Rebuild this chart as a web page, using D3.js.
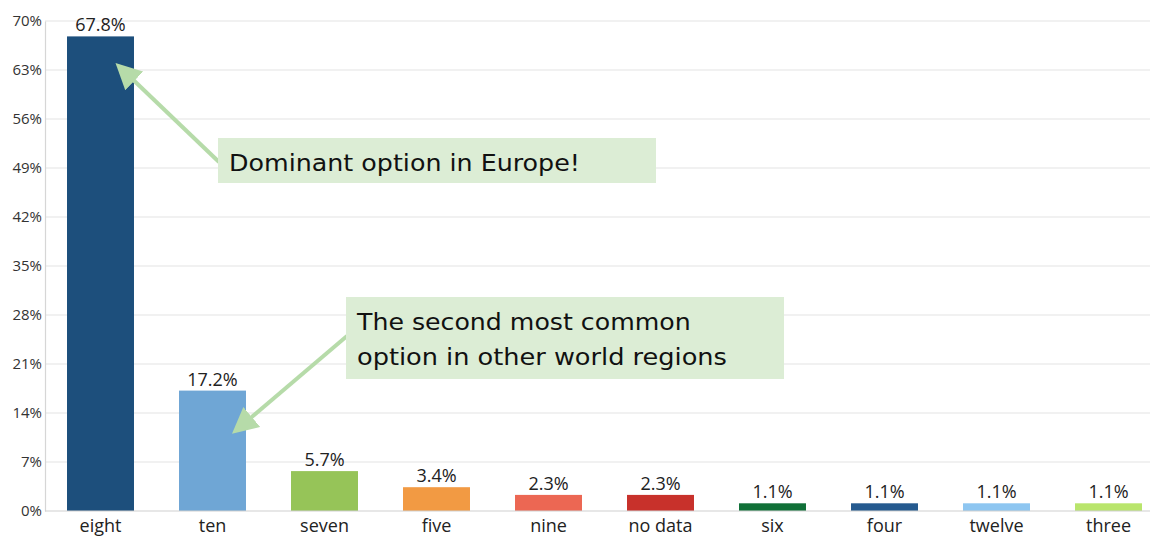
<!DOCTYPE html>
<html>
<head>
<meta charset="utf-8">
<script src="https://cdn.jsdelivr.net/npm/d3@7/dist/d3.min.js"></script>
<style>
  html, body { margin: 0; padding: 0; background: #fff; }
  svg { display: block; }
</style>
</head>
<body>
<svg id="chart" width="1150" height="536"></svg>
<script>
// Share of responses per option (percent)
const categories = ["eight", "ten", "seven", "five", "nine", "no data", "six", "four", "twelve", "three"];
const values = [67.8, 17.2, 5.7, 3.4, 2.3, 2.3, 1.1, 1.1, 1.1, 1.1];
const barColors = ["#1d4f7c", "#6fa6d5", "#96c458", "#f29a43", "#ec6753", "#c8312b", "#107038", "#255a8f", "#8ec6f1", "#b9e56c"];
const yTicks = [0, 7, 14, 21, 28, 35, 42, 49, 56, 63, 70];
const notes = [
  { lines: ["Dominant option in Europe!"], target: "eight", value: 63.5 },
  { lines: ["The second most common", "option in other world regions"], target: "ten", value: 11.5 }
];

const svg = d3.select("#chart");
const W = 1150, H = 536;
const baseFont = "'Open Sans', 'Noto Sans', sans-serif";
const noteFont = "'DejaVu Sans', 'Noto Sans', sans-serif";

const x = d3.scaleBand()
  .domain(categories)
  .range([44.5, 1164.5])
  .paddingInner(0.402)
  .paddingOuter(0.201);

const y = d3.scaleLinear().domain([0, 70]).range([511, 21]);

// horizontal grid
svg.append("g")
  .selectAll("line")
  .data(yTicks.filter(t => t > 0))
  .join("line")
  .attr("x1", 45).attr("x2", W)
  .attr("y1", d => y(d)).attr("y2", d => y(d))
  .attr("stroke", "#e4e4e4").attr("stroke-width", 1.2);

// y axis
const yAxis = svg.append("g")
  .attr("transform", "translate(45,0)")
  .call(d3.axisLeft(y).tickValues(yTicks).tickSize(0).tickPadding(3).tickFormat(d => d + "%"));
yAxis.select(".domain").attr("stroke", "#d6d6d6").attr("stroke-width", 1.2);
yAxis.selectAll("text")
  .attr("font-family", baseFont).attr("font-size", 15).attr("fill", "#333");

// bars
svg.append("g")
  .selectAll("rect")
  .data(categories)
  .join("rect")
  .attr("x", d => x(d))
  .attr("width", x.bandwidth())
  .attr("y", (d, i) => y(values[i]))
  .attr("height", (d, i) => y(0) - y(values[i]))
  .attr("fill", (d, i) => barColors[i]);

// x axis
const xAxis = svg.append("g")
  .attr("transform", `translate(0,${y(0)})`)
  .call(d3.axisBottom(x).tickSize(0).tickPadding(8));
xAxis.select(".domain").attr("stroke", "#d0d0d0").attr("stroke-width", 1.2).attr("d", `M45,0H${W}`);
xAxis.selectAll("text")
  .attr("font-family", baseFont).attr("font-size", 18).attr("fill", "#222");

// value labels
svg.append("g")
  .selectAll("text")
  .data(categories)
  .join("text")
  .attr("x", d => x(d) + x.bandwidth() / 2)
  .attr("y", (d, i) => y(values[i]) - 5)
  .attr("text-anchor", "middle")
  .attr("font-family", baseFont).attr("font-size", 18).attr("fill", "#222")
  .text((d, i) => values[i].toFixed(1) + "%");

// callouts: box geometry and the width each text line spans
const boxes = [
  { x: 218, y: 138, w: 438, h: 45, tail: [219, 162], widths: [351] },
  { x: 346, y: 297, w: 438, h: 82, tail: [347, 336], widths: [334, 370] }
];
const arrowColor = "#b6dba9";
const defs = svg.append("defs");
defs.append("marker")
  .attr("id", "head")
  .attr("viewBox", "0 0 10 10")
  .attr("refX", 8).attr("refY", 5)
  .attr("markerWidth", 6.5).attr("markerHeight", 6.5)
  .attr("orient", "auto")
  .append("path").attr("d", "M0,0L10,5L0,10Z").attr("fill", arrowColor);

notes.forEach((n, k) => {
  const b = boxes[k];
  const tx = x(n.target) + x.bandwidth() * (k === 0 ? 0.78 : 0.85);
  const ty = y(n.value);
  svg.append("line")
    .attr("x1", b.tail[0]).attr("y1", b.tail[1])
    .attr("x2", tx).attr("y2", ty)
    .attr("stroke", arrowColor).attr("stroke-width", 4)
    .attr("marker-end", "url(#head)");
  svg.append("rect")
    .attr("x", b.x).attr("y", b.y).attr("width", b.w).attr("height", b.h)
    .attr("fill", "#dcedd5");
  n.lines.forEach((line, j) => {
    const t = svg.append("text")
      .attr("x", 0).attr("y", 0)
      .attr("font-family", noteFont).attr("font-size", 23).attr("fill", "#111")
      .text(line);
    // stretch the line horizontally so it spans its intended width
    const len = t.node().getComputedTextLength();
    const sx = b.widths[j] / len;
    t.attr("transform", `translate(${b.x + 11},${b.y + 33 + j * 35}) scale(${sx.toFixed(3)},1)`);
  });
});
</script>
</body>
</html>
